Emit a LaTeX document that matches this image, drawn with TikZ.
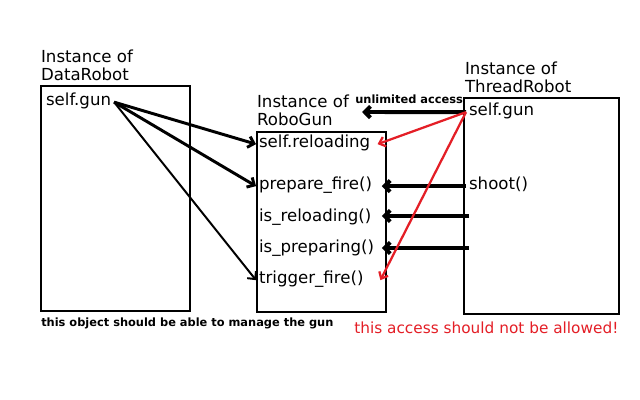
\documentclass[tikz,border=0pt]{standalone}
\usepackage{fontspec}
\setmainfont{DejaVu Sans}
\usepackage{xcolor}
\usetikzlibrary{arrows.meta}
\definecolor{badred}{RGB}{228,30,38}

\tikzset{
  lbl/.style={font=\fontsize{11.8}{14}\selectfont, anchor=base west, inner xsep=2pt, inner ysep=0pt},
  note/.style={font=\bfseries\fontsize{8.1}{10}\selectfont, anchor=base west, inner sep=0pt},
  objbox/.style={line width=0.75pt},
  call/.style={-{Straight Barb[length=4pt,width=8pt]}, line width=2.1pt},
  badcall/.style={-{Straight Barb[length=4pt,width=7pt]}, line width=1.6pt, badred}
}

\begin{document}
\begin{tikzpicture}[x=0.025cm, y=-0.025cm]
    \useasboundingbox[fill=white] (0,0) rectangle (640,400);

    % Objekte
    \draw[objbox] (41,86) rectangle (190,311);
    \draw[objbox] (257,132) rectangle (386,312) coordinate (gunSE);
    \draw[objbox] (464,98) rectangle (619,314);

    % Titel
    \node[lbl] (dtitle) at (38,63) {Instance of};
    \node[lbl] (dname) at (38,81) {DataRobot};
    \node[lbl] (gtitle) at (254,108) {Instance of};
    \node[lbl] (gname) at (254,126) {RoboGun};
    \node[lbl] (ttitle) at (462,75) {Instance of};
    \node[lbl] (tname) at (462,93) {ThreadRobot};

    % Attribute und Methoden
    \node[lbl] (dgun) at (43,106) {self.gun};
    \node[lbl] (reload) at (256,148) {self.reloading};
    \node[lbl] (prepare) at (256,190) {prepare\_fire()};
    \node[lbl] (isreload) at (256,222) {is\_reloading()};
    \node[lbl] (isprep) at (256,253) {is\_preparing()};
    \node[lbl] (trigger) at (256,284) {trigger\_fire()};
    \node[lbl] (tgun) at (466,116) {self.gun};
    \node[lbl] (shoot) at (466,190) {shoot()};
    \coordinate (isreloadR) at (469,216);
    \coordinate (isprepR) at (469,248);
    \coordinate (uaEnd) at (362,112);

    % DataRobot -> RoboGun
    \draw[call] (dgun.mid east) -- (reload.mid west);
    \draw[call] (dgun.mid east) -- (prepare.mid west);
    \draw[call, line width=1.4pt] (dgun.mid east) -- (trigger.mid west);

    % ThreadRobot -> RoboGun
    \draw[call, line width=2.8pt] (tgun.mid west) -- (uaEnd);
    \node[note] (ua) at (355,104) {unlimited access};
    \draw[call, line width=2.8pt] (shoot.mid west) -- ([xshift=-3]prepare.mid west -| gunSE);
    \draw[call, line width=2.8pt] (isreloadR) -- ([xshift=-3]isreloadR -| gunSE);
    \draw[call, line width=2.8pt] (isprepR) -- ([xshift=-3]isprepR -| gunSE);
    \draw[badcall] (tgun.mid west) -- ([xshift=-6]reload.mid west -| gunSE);
    \draw[badcall] (tgun.mid west) -- ([xshift=-4]trigger.mid west -| gunSE);

    % Kommentare
    \node[note] (dnote) at (41,327) {this object should be able to manage the gun};
    \node[lbl, inner xsep=0pt, font=\fontsize{10.9}{13}\selectfont, text=badred] (bad) at (354,334) {this access should not be allowed!};
\end{tikzpicture}
\end{document}
